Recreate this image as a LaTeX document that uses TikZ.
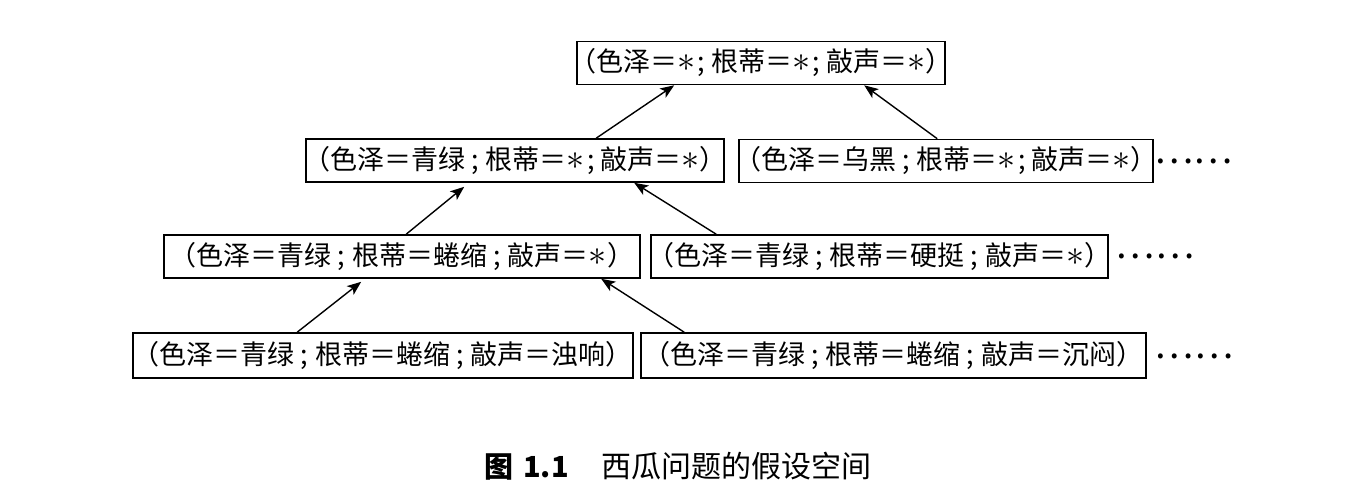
\documentclass[tikz,border=0pt]{standalone}
\usepackage{fontspec}
\newfontfamily\cjk{Noto Sans CJK SC}
\usetikzlibrary{arrows.meta}
\tikzset{
  hbox/.style={draw, line width=1.6pt, inner sep=0pt, minimum height=43pt,
    font=\cjk\fontsize{27}{30}\selectfont, text=black},
  arr/.style={-{Stealth[length=14pt,width=11pt,inset=3.5pt]}, line width=1.4pt},
  dotsnode/.style={inner sep=0pt, font=\cjk\fontsize{37}{40}\selectfont},
}
\newcommand{\st}{\scalebox{1.45}{$\ast$}}
\newcommand{\sm}{\hspace{6pt};\hspace{7pt}}
\newcommand{\sma}{\hspace{2pt};\hspace{6pt}}
\newcommand{\bt}[1]{\makebox[0pt][c]{#1}}
\begin{document}
\begin{tikzpicture}[x=1pt,y=-1pt]
\useasboundingbox[fill=white] (0,0) rectangle (1352,502);
\node[hbox, minimum width=368pt] (T) at (761,63) {\bt{（色泽＝\st\sma 根蒂＝\st\sma 敲声＝\st）}};
\node[hbox, minimum width=418pt] (A) at (515,160.5) {\bt{（色泽＝青绿\sm 根蒂＝\st\sma 敲声＝\st）}};
\node[hbox, minimum width=414pt] (B) at (946,161) {\bt{（色泽＝乌黑\sm 根蒂＝\st\sma 敲声＝\st）}};
\node[hbox, minimum width=476pt] (C) at (402,256.5) {\bt{（色泽＝青绿\sm 根蒂＝蜷缩\sm 敲声＝\st）}};
\node[hbox, minimum width=457pt] (D) at (879.5,256.5) {\bt{（色泽＝青绿\sm 根蒂＝硬挺\sm 敲声＝\st）}};
\node[hbox, minimum width=500pt, minimum height=45pt] (E) at (383,355.5) {\bt{（色泽＝青绿\sm 根蒂＝蜷缩\sm 敲声＝浊响）}};
\node[hbox, minimum width=505pt, minimum height=45pt] (F) at (893.5,355.5) {\bt{（色泽＝青绿\sm 根蒂＝蜷缩\sm 敲声＝沉闷）}};
\node[dotsnode] (d1) at (1193.5,161) {……};
\node[dotsnode] (d2) at (1155,256.5) {……};
\node[dotsnode] (d3) at (1194,356) {……};
\draw[arr] ([xshift=291pt]A.north west) -- ([xshift=98pt]T.south west);
\draw[arr] ([xshift=199pt]B.north west) -- ([xshift=288pt]T.south west);
\draw[arr] ([xshift=243pt]C.north west) -- ([xshift=159pt,yshift=-4pt]A.south west);
\draw[arr] ([xshift=66pt]D.north west) -- ([xshift=329pt]A.south west);
\draw[arr] ([xshift=165pt]E.north west) -- ([xshift=198pt,yshift=-3pt]C.south west);
\draw[arr] ([xshift=44pt]F.north west) -- ([xshift=438pt]C.south west);
\node[anchor=west, inner sep=0pt, font=\cjk\fontsize{30}{34}\selectfont] (cap) at (484,466)
  {\makebox[117pt][l]{\fontsize{29}{34}\selectfont\bfseries 图\hspace{10pt}1.1}西瓜问题的假设空间};
\end{tikzpicture}
\end{document}
